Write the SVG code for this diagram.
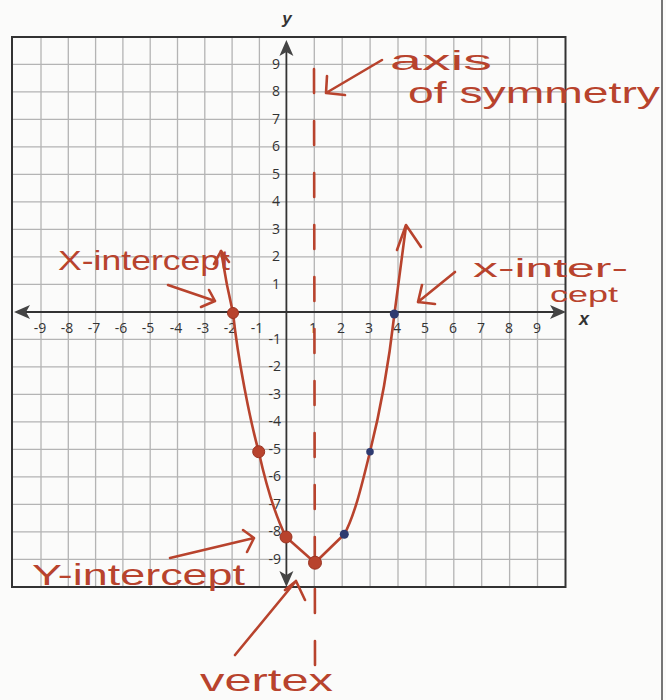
<svg xmlns="http://www.w3.org/2000/svg" width="666" height="700" viewBox="0 0 666 700">
<defs>
<style>
.grid{stroke:#b4b4b4;stroke-width:1.3;fill:none}
.border{stroke:#333;stroke-width:2;fill:none}
.axis{stroke:#333;stroke-width:1.8;fill:none}
.tick{font-family:"Open Sans","Liberation Sans",sans-serif;font-size:14px;fill:#333}
.axlbl{font-family:"Liberation Sans",sans-serif;font-style:italic;font-weight:bold;fill:#333}
.ink{stroke:#b8432d;stroke-width:2.6;fill:none;stroke-linecap:round;stroke-linejoin:round}
.hand{font-family:"Liberation Sans",sans-serif;fill:#b8432d}
.red{fill:#b8432d;stroke:#9a3422;stroke-width:1}
.blue{fill:#2f3b70}
</style>
</defs>
<rect x="0" y="0" width="666" height="700" fill="#fbfbfa"/>
<line x1="662" y1="0" x2="662" y2="700" stroke="#555" stroke-width="1.6"/>

<g id="grid">
<path class="grid" d="M41,37V587M68.3,37V587M95.6,37V587M122.9,37V587M150.2,37V587M177.5,37V587M204.8,37V587M232.1,37V587M259.4,37V587M314.3,37V587M342.2,37V587M370.1,37V587M398,37V587M425.9,37V587M453.8,37V587M481.7,37V587M509.6,37V587M537.5,37V587"/>
<path class="grid" d="M12,64.3H565.5M12,91.8H565.5M12,119.3H565.5M12,146.8H565.5M12,174.3H565.5M12,201.8H565.5M12,229.3H565.5M12,256.8H565.5M12,284.3H565.5M12,339.3H565.5M12,366.8H565.5M12,394.3H565.5M12,421.8H565.5M12,449.3H565.5M12,476.8H565.5M12,504.3H565.5M12,531.8H565.5M12,559.3H565.5"/>
<rect class="border" x="12" y="37" width="553.5" height="550"/>
</g>

<g id="axes">
<line class="axis" x1="22" y1="312" x2="556" y2="312"/>
<line class="axis" x1="286.4" y1="48" x2="286.4" y2="578"/>
<path d="M14,312 L30,305 L26,312 L30,319 Z" fill="#444"/>
<path d="M566,312 L550,305 L554,312 L550,319 Z" fill="#444"/>
<path d="M286.4,40 L279.4,56 L286.4,52 L293.4,56 Z" fill="#444"/>
<path d="M286.4,587 L279.4,571 L286.4,575 L293.4,571 Z" fill="#444"/>
<text class="axlbl" x="287" y="24" font-size="17" text-anchor="middle">y</text>
<text class="axlbl" x="584" y="325" font-size="18" text-anchor="middle">x</text>
</g>

<g id="ticks" class="tick">
<g text-anchor="middle">
<text x="40" y="333">-9</text><text x="67" y="333">-8</text><text x="94" y="333">-7</text><text x="121" y="333">-6</text><text x="148" y="333">-5</text><text x="176" y="333">-4</text><text x="203" y="333">-3</text><text x="230" y="333">-2</text><text x="257" y="333">-1</text>
<text x="313" y="333">1</text><text x="341" y="333">2</text><text x="369" y="333">3</text><text x="397" y="333">4</text><text x="425" y="333">5</text><text x="453" y="333">6</text><text x="481" y="333">7</text><text x="509" y="333">8</text><text x="537" y="333">9</text>
</g>
<g text-anchor="end">
<text x="280" y="69">9</text><text x="280" y="96">8</text><text x="280" y="124">7</text><text x="280" y="151">6</text><text x="280" y="179">5</text><text x="280" y="206">4</text><text x="280" y="234">3</text><text x="280" y="261">2</text><text x="280" y="289">1</text>
<text x="281" y="344">-1</text><text x="281" y="371">-2</text><text x="281" y="399">-3</text><text x="281" y="426">-4</text><text x="281" y="454">-5</text><text x="281" y="481">-6</text><text x="281" y="509">-7</text><text x="281" y="536">-8</text><text x="281" y="564">-9</text>
</g>
</g>

<g id="symmetry-axis">
<line class="ink" x1="314" y1="69" x2="315" y2="666" stroke-width="3" stroke-dasharray="24 28" stroke-linecap="butt"/>
</g>

<g id="parabola">
<path class="ink" d="M221,251 L227,285 L233,313 C238,360 250,420 258.7,451.7 C265,480 275,515 286,537 L315,562.7 L344.3,534.3 C355,515 363,480 370,451.7 C378,420 388,370 394.3,315 L406,226"/>
<path class="ink" d="M214,264 L221,251 L229,262"/>
<path class="ink" d="M397,250 L406,225 L421,247"/>
</g>

<g id="points">
<circle class="red" cx="233" cy="313" r="5.5"/>
<circle class="red" cx="258.7" cy="451.7" r="6"/>
<circle class="red" cx="286" cy="537" r="6"/>
<circle class="red" cx="315" cy="562.7" r="6.5"/>
<circle class="blue" cx="344.3" cy="534.3" r="4.5"/>
<circle class="blue" cx="370" cy="451.7" r="3.8"/>
<circle class="blue" cx="394.3" cy="314" r="4.5"/>
</g>

<g id="label-axis-of-symmetry">
<text class="hand" x="390" y="70" font-size="27" textLength="102" lengthAdjust="spacingAndGlyphs">axis</text>
<text class="hand" x="408" y="103" font-size="30" textLength="252" lengthAdjust="spacingAndGlyphs">of symmetry</text>
<path class="ink" d="M382,60 L326,93 M327,76 L326,93 L345,95"/>
</g>

<g id="label-x-intercept-left">
<text class="hand" x="58" y="270" font-size="28" textLength="172" lengthAdjust="spacingAndGlyphs">X-intercept</text>
<path class="ink" d="M168,285 L215,301 M209,290 L215,301 L201,307"/>
</g>

<g id="label-x-intercept-right">
<text class="hand" x="473" y="277" font-size="26" textLength="155" lengthAdjust="spacingAndGlyphs">x-inter-</text>
<text class="hand" x="550" y="302" font-size="22" textLength="68" lengthAdjust="spacingAndGlyphs">cept</text>
<path class="ink" d="M455,272 L418,302 M422,285 L418,302 L435,304"/>
</g>

<g id="label-y-intercept">
<text class="hand" x="32" y="585" font-size="30" textLength="213" lengthAdjust="spacingAndGlyphs">Y-intercept</text>
<path class="ink" d="M170,558 L254,538 M243,530 L254,538 L247,552"/>
</g>

<g id="label-vertex">
<text class="hand" x="200" y="691" font-size="32" textLength="133" lengthAdjust="spacingAndGlyphs">vertex</text>
<path class="ink" d="M235,655 L296,581 M285,590 L296,581 L305,600"/>
</g>
</svg>
